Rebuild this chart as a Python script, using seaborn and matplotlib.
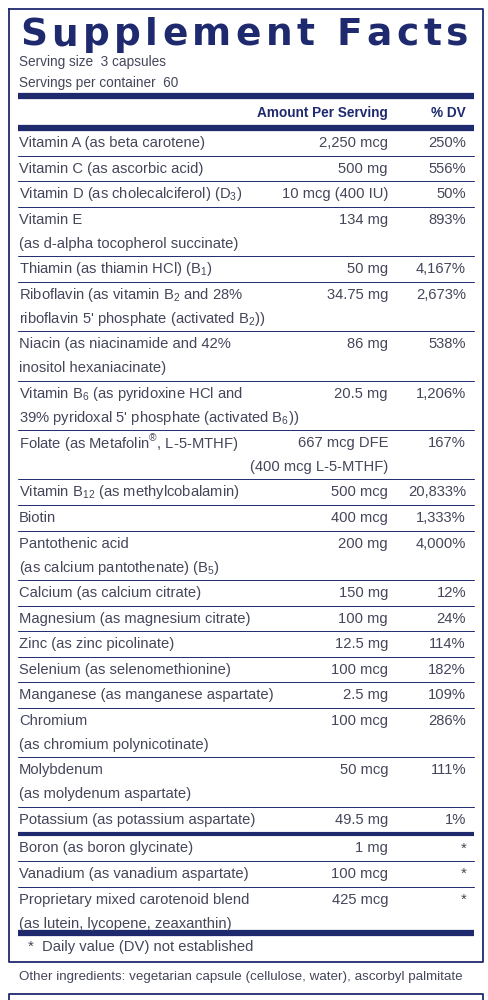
import matplotlib
matplotlib.use('Agg')
import matplotlib.pyplot as plt
import seaborn as sns

# label contents
names = ['Vitamin A (as beta carotene)', 'Vitamin C (as ascorbic acid)',
         'Vitamin D (as cholecalciferol) (D$_3$)',
         'Vitamin E\n(as d-alpha tocopherol succinate)',
         'Thiamin (as thiamin HCl) (B$_1$)',
         'Riboflavin (as vitamin B$_2$ and 28%\nriboflavin 5\' phosphate (activated B$_2$))',
         'Niacin (as niacinamide and 42%\ninositol hexaniacinate)',
         'Vitamin B$_6$ (as pyridoxine HCl and\n39% pyridoxal 5\' phosphate (activated B$_6$))',
         'Folate (as Metafolin$^{®}$, L-5-MTHF)',
         'Vitamin B$_{12}$ (as methylcobalamin)', 'Biotin',
         'Pantothenic acid\n(as calcium pantothenate) (B$_5$)',
         'Calcium (as calcium citrate)', 'Magnesium (as magnesium citrate)',
         'Zinc (as zinc picolinate)', 'Selenium (as selenomethionine)',
         'Manganese (as manganese aspartate)',
         'Chromium\n(as chromium polynicotinate)',
         'Molybdenum\n(as molydenum aspartate)',
         'Potassium (as potassium aspartate)']
amounts = ['2,250 mcg', '500 mg', '10 mcg (400 IU)', '134 mg', '50 mg', '34.75 mg',
           '86 mg', '20.5 mg', '667 mcg DFE\n(400 mcg L-5-MTHF)', '500 mcg', '400 mcg',
           '200 mg', '150 mg', '100 mg', '12.5 mg', '100 mcg', '2.5 mg', '100 mcg',
           '50 mcg', '49.5 mg']
dvs = ['250%', '556%', '50%', '893%', '4,167%', '2,673%', '538%', '1,206%', '167%',
       '20,833%', '1,333%', '4,000%', '12%', '24%', '114%', '182%', '109%', '286%',
       '111%', '1%']
names2 = ['Boron (as boron glycinate)', 'Vanadium (as vanadium aspartate)',
          'Proprietary mixed carotenoid blend\n(as lutein, lycopene, zeaxanthin)']
amounts2 = ['1 mg', '100 mcg', '425 mcg']
dvs2 = ['*', '*', '*']

sns.set_style('white')
plt.rcParams['font.family'] = ['Liberation Sans', 'DejaVu Sans']
plt.rcParams['mathtext.fontset'] = 'custom'
plt.rcParams['mathtext.rm'] = 'Liberation Sans'

navy = '#1f2a6e'
txt = '#44465a'
fs = 10.6

fig = plt.figure(figsize=(4.89, 10), dpi=100)
ax = fig.add_axes([0, 0, 1, 1])
ax.set_xlim(0, 489)
ax.set_ylim(1000, 0)
ax.axis('off')

# boxes
ax.plot([9, 483, 483, 9, 9], [9, 9, 962, 962, 9], color=navy, lw=1.3)
ax.plot([9, 9, 483, 483], [1000, 994, 994, 1000], color=navy, lw=1.3)

# spaced-out title: measure glyph widths, then spread to fill the line
title = 'Supplement Facts'
tfs = 27
fig.canvas.draw()
rend = fig.canvas.get_renderer()
widths = []
for ch in title:
    t = ax.text(0, 0, ch if ch != ' ' else 'n', fontsize=tfs, fontweight='bold',
                family='DejaVu Sans')
    widths.append(t.get_window_extent(rend).width * (0.5 if ch == ' ' else 1))
    t.remove()
gap = (468 - 20 - sum(widths)) / (len(title) - 1)
x = 20
for ch, w in zip(title, widths):
    ax.text(x, 45, ch, fontsize=tfs, fontweight='bold', color=navy, ha='left',
            va='baseline', family='DejaVu Sans')
    x += w + gap

ax.text(19, 62, 'Serving size  3 capsules', fontsize=9.8, color=txt, va='center')
ax.text(19, 83, 'Servings per container  60', fontsize=9.8, color=txt, va='center')
ax.plot([18, 474], [96, 96], color=navy, lw=4.5, solid_capstyle='butt')
ax.text(388, 113, 'Amount Per Serving', fontsize=9.8, fontweight='bold', color=navy,
        ha='right', va='center')
ax.text(466, 113, '% DV', fontsize=9.8, fontweight='bold', color=navy,
        ha='right', va='center')
ax.plot([18, 474], [128, 128], color=navy, lw=4.5, solid_capstyle='butt')

single, double = 25.6, 49.4


def draw_rows(ns, am, dv, y):
    for k, (n, a, d) in enumerate(zip(ns, am, dv)):
        h = double if ('\n' in n or '\n' in a) else single
        for j, ln in enumerate(n.split('\n')):
            ax.text(19, y + 13 + j * 24, ln, fontsize=fs, color=txt, va='center')
        for j, ln in enumerate(a.split('\n')):
            ax.text(388, y + 13 + j * 24, ln, fontsize=fs, color=txt, va='center',
                    ha='right')
        ax.text(466, y + 13, d, fontsize=fs, color=txt, va='center', ha='right')
        y += h
        if k < len(ns) - 1:
            ax.plot([18, 474], [y, y], color=navy, lw=0.7)
    return y


y = draw_rows(names, amounts, dvs, 130)
ax.plot([18, 474], [y + 1.5, y + 1.5], color=navy, lw=3, solid_capstyle='butt')
y = draw_rows(names2, amounts2, dvs2, y + 3)
ax.plot([18, 474], [933, 933], color=navy, lw=4.5, solid_capstyle='butt')

ax.text(28, 947, '*  Daily value (DV) not established', fontsize=fs, color=txt, va='center')
ax.text(19, 977, 'Other ingredients: vegetarian capsule (cellulose, water), ascorbyl palmitate',
        fontsize=9.6, color=txt, va='center')

fig.savefig('out.png', dpi=100)
